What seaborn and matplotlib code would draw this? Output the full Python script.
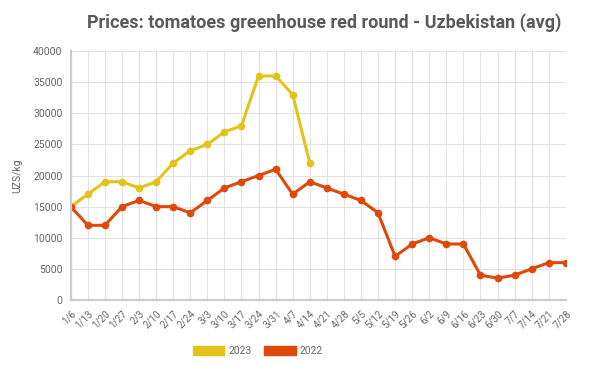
import matplotlib
matplotlib.use("Agg")
import pandas
import seaborn as sea
from matplotlib import pyplot
from matplotlib.patches import Patch

weeks = ["1/6", "1/13", "1/20", "1/27", "2/3", "2/10", "2/17", "2/24", "3/3",
         "3/10", "3/17", "3/24", "3/31", "4/7", "4/14", "4/21", "4/28", "5/5",
         "5/12", "5/19", "5/26", "6/2", "6/9", "6/16", "6/23", "6/30", "7/7",
         "7/14", "7/21", "7/28"]
prices_2023 = [15000, 17000, 19000, 19000, 18000, 19000, 22000, 24000, 25000,
               27000, 28000, 36000, 36000, 33000, 22000]
prices_2022 = [15000, 12000, 12000, 15000, 16000, 15000, 15000, 14000, 16000,
               18000, 19000, 20000, 21000, 17000, 19000, 18000, 17000, 16000,
               14000, 7000, 9000, 10000, 9000, 9000, 4000, 3500, 4000, 5000,
               6000, 6000]
years = ["2023", "2022"]
colors = {"2023": "#e3c31a", "2022": "#e0480a"}

rows = []
for year, vals in zip(years, [prices_2023, prices_2022]):
    for i, v in enumerate(vals):
        rows.append({"week": i, "price": v, "year": year})
df = pandas.DataFrame(rows)

sea.set_style("white")
pyplot.rcParams["font.family"] = ["Roboto", "DejaVu Sans"]

fig = pyplot.figure(figsize=(6, 3.81), dpi=100)
ax = fig.add_axes([0.118, 0.2126, 0.825, 0.6534])

sea.lineplot(data=df, x="week", y="price", hue="year", palette=colors,
             marker="o", markersize=5.5, markeredgewidth=0, linewidth=2.2,
             legend=False, ax=ax)

ax.set_xlim(0, len(weeks) - 1)
ax.set_ylim(0, 40000)
ax.set_xticks(range(len(weeks)))
ax.set_xticklabels(weeks, rotation=45, ha="right", rotation_mode="anchor",
                   fontsize=7, color="#666666")
ax.set_yticks(range(0, 40001, 5000))
ax.tick_params(axis="y", labelsize=7.5, labelcolor="#666666", length=4,
               color="#cccccc", pad=2)
ax.tick_params(axis="x", length=4, color="#cccccc", pad=2)
ax.grid(True, color="#e3e3e3", linewidth=0.8)
for s in ["top", "right"]:
    ax.spines[s].set_visible(False)
for s in ["left", "bottom"]:
    ax.spines[s].set_color("#cccccc")
    ax.spines[s].set_linewidth(1.6)
ax.set_xlabel("")
ax.set_ylabel("UZS/kg", fontsize=7.5, color="#666666", labelpad=8)

fig.text(0.54, 0.94, "Prices: tomatoes greenhouse red round - Uzbekistan (avg)",
         ha="center", va="center", fontsize=13, fontweight="bold",
         color="#595959")

handles = [Patch(facecolor=colors[y], edgecolor=colors[y]) for y in years]
fig.legend(handles, years, loc="center", bbox_to_anchor=(0.43, 0.078), ncol=2,
           frameon=False, fontsize=7.5, handlelength=3.0, handleheight=1.0,
           columnspacing=1.2, handletextpad=0.4, labelcolor="#666666")

fig.savefig("out.png", dpi=100)
